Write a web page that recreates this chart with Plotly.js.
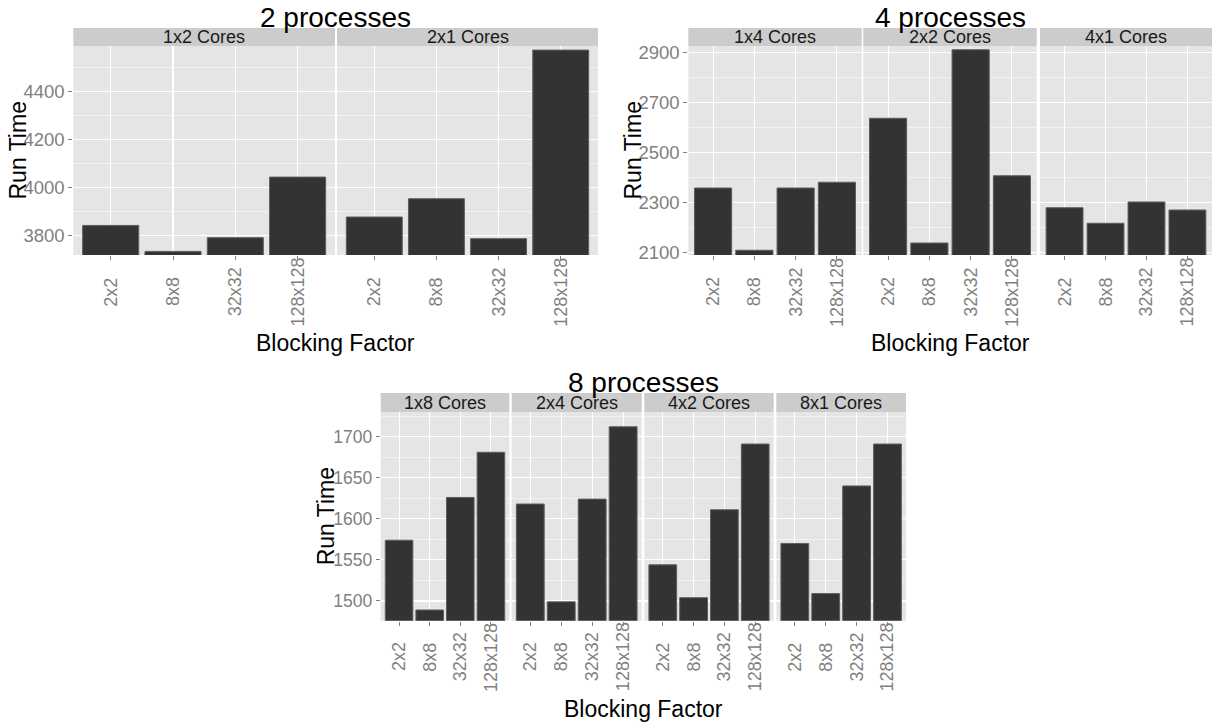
<!DOCTYPE html>
<html>
<head>
<meta charset="utf-8">
<script src="https://cdn.plot.ly/plotly-3.0.1.min.js"></script>
<style>html,body{margin:0;padding:0;background:#fff;}#chart{width:1214px;height:723px;}</style>
</head>
<body>
<div id="chart"></div>
<script>
// ---- data ----
const categories = ['2x2', '8x8', '32x32', '128x128'];

const p2Title = '2 processes';
const p2Cores = ['1x2 Cores', '2x1 Cores'];
const p2_1x2 = [3843, 3735, 3792, 4044];
const p2_2x1 = [3878, 3954, 3788, 4572];

const p4Title = '4 processes';
const p4Cores = ['1x4 Cores', '2x2 Cores', '4x1 Cores'];
const p4_1x4 = [2357, 2108, 2357, 2380];
const p4_2x2 = [2636, 2137, 2910, 2406];
const p4_4x1 = [2278, 2216, 2301, 2269];

const p8Title = '8 processes';
const p8Cores = ['1x8 Cores', '2x4 Cores', '4x2 Cores', '8x1 Cores'];
const p8_1x8 = [1574, 1489, 1626, 1681];
const p8_2x4 = [1618, 1499, 1624, 1712];
const p8_4x2 = [1544, 1504, 1611, 1691];
const p8_8x1 = [1570, 1509, 1640, 1691];

const xTitle = 'Blocking Factor';
const yTitle = 'Run Time';

// ---- layout geometry (pixels) ----
const W = 1214, H = 723;
const px = x => x / W;
const py = y => 1 - y / H;

const groups = [
  { title: p2Title, cores: p2Cores, values: [p2_1x2, p2_2x1],
    xs: [[73.3, 335], [337, 598]], y: [46, 255], strip: [28, 46],
    range: [3720, 4589], tick0: 3800, dtick: 200, tickSize: 18.5,
    runX: 17, labelY: 292, bfY: 343, titleY: 17 },
  { title: p4Title, cores: p4Cores, values: [p4_1x4, p4_2x2, p4_4x1],
    xs: [[688.3, 861.7], [863.3, 1036.7], [1040, 1212]], y: [46, 255], strip: [28, 46],
    range: [2089, 2925], tick0: 2100, dtick: 200, tickSize: 18.5,
    runX: 632, labelY: 292, bfY: 343, titleY: 17 },
  { title: p8Title, cores: p8Cores, values: [p8_1x8, p8_2x4, p8_4x2, p8_8x1],
    xs: [[380.7, 509.3], [511.7, 641.7], [644.3, 773.7], [776.3, 906]], y: [412, 620.7], strip: [393, 412],
    range: [1476, 1730], tick0: 1500, dtick: 50, tickSize: 17.5,
    runX: 326, labelY: 657, bfY: 709, titleY: 382 }
];

const FONT = '"Liberation Sans", Arial, "DejaVu Sans", sans-serif';
const GREY = '#7F7F7F';

const traces = [];
const layout = {
  width: W, height: H,
  margin: { l: 0, r: 0, t: 0, b: 0, pad: 0 },
  paper_bgcolor: '#FFFFFF',
  plot_bgcolor: '#E5E5E5',
  font: { family: FONT, color: '#000' },
  showlegend: false,
  bargap: 0.1,
  shapes: [],
  annotations: []
};

let n = 0;
groups.forEach(g => {
  const firstN = n + 1;
  g.cores.forEach((core, i) => {
    n += 1;
    const xa = n === 1 ? 'xaxis' : 'xaxis' + n;
    const ya = n === 1 ? 'yaxis' : 'yaxis' + n;
    const xr = n === 1 ? 'x' : 'x' + n;
    const yr = n === 1 ? 'y' : 'y' + n;
    const [x0, x1] = g.xs[i];

    traces.push({
      type: 'bar', x: categories, y: g.values[i],
      xaxis: xr, yaxis: yr, width: 0.9,
      marker: { color: '#333333', line: { color: '#5E5E5E', width: 1 } },
      hovertemplate: core + '<br>%{x}: %{y}<extra></extra>'
    });

    layout[xa] = {
      domain: [px(x0), px(x1)], anchor: yr,
      type: 'category', categoryorder: 'array', categoryarray: categories,
      range: [-0.6, 3.6], fixedrange: true,
      showgrid: true, gridcolor: '#FFFFFF', gridwidth: 1.1,
      ticks: 'outside', ticklen: 4, tickwidth: 1, tickcolor: GREY,
      showticklabels: false, zeroline: false, showline: false, automargin: false
    };
    layout[ya] = {
      domain: [py(g.y[1]), py(g.y[0])], anchor: xr,
      range: g.range, fixedrange: true, tick0: g.tick0, dtick: g.dtick,
      showgrid: true, gridcolor: '#FFFFFF', gridwidth: 1.1,
      minor: { tick0: g.tick0 - g.dtick / 2, dtick: g.dtick, showgrid: true,
               gridcolor: '#F2F2F2', gridwidth: 1, ticks: '' },
      zeroline: false, showline: false, automargin: false,
      ticks: i === 0 ? 'outside' : '', ticklen: 4, tickwidth: 1, tickcolor: GREY,
      showticklabels: i === 0,
      tickfont: { family: FONT, size: g.tickSize, color: GREY }
    };

    // facet strip
    layout.shapes.push({
      type: 'rect', xref: 'paper', yref: 'paper',
      x0: px(x0), x1: px(x1), y0: py(g.strip[1]), y1: py(g.strip[0]),
      fillcolor: '#CCCCCC', line: { width: 0 }, layer: 'below'
    });
    layout.annotations.push({
      text: core, xref: 'paper', yref: 'paper',
      x: px((x0 + x1) / 2), y: py((g.strip[0] + g.strip[1]) / 2),
      xanchor: 'center', yanchor: 'middle', showarrow: false,
      font: { family: FONT, size: 18, color: '#1A1A1A' }
    });

    // category labels (rotated, centred like ggplot)
    categories.forEach(c => {
      layout.annotations.push({
        text: c, xref: xr, yref: 'paper', x: c, y: py(g.labelY),
        xanchor: 'center', yanchor: 'middle', textangle: -90, showarrow: false,
        font: { family: FONT, size: 18, color: GREY }
      });
    });
  });

  const left = g.xs[0][0], right = g.xs[g.xs.length - 1][1];
  const cx = (left + right) / 2;
  // group title
  layout.annotations.push({
    text: g.title, xref: 'paper', yref: 'paper', x: px(cx), y: py(g.titleY),
    xanchor: 'center', yanchor: 'middle', showarrow: false,
    font: { family: FONT, size: 28, color: '#000' }
  });
  // x title
  layout.annotations.push({
    text: xTitle, xref: 'paper', yref: 'paper', x: px(cx), y: py(g.bfY),
    xanchor: 'center', yanchor: 'middle', showarrow: false,
    font: { family: FONT, size: 23, color: '#000' }
  });
  // y title
  layout.annotations.push({
    text: yTitle, xref: 'paper', yref: 'paper', x: px(g.runX), y: py((g.y[0] + g.y[1]) / 2),
    xanchor: 'center', yanchor: 'middle', textangle: -90, showarrow: false,
    font: { family: FONT, size: 23, color: '#000' }
  });
});

Plotly.newPlot('chart', traces, layout, { staticPlot: true, displayModeBar: false });
</script>
</body>
</html>
